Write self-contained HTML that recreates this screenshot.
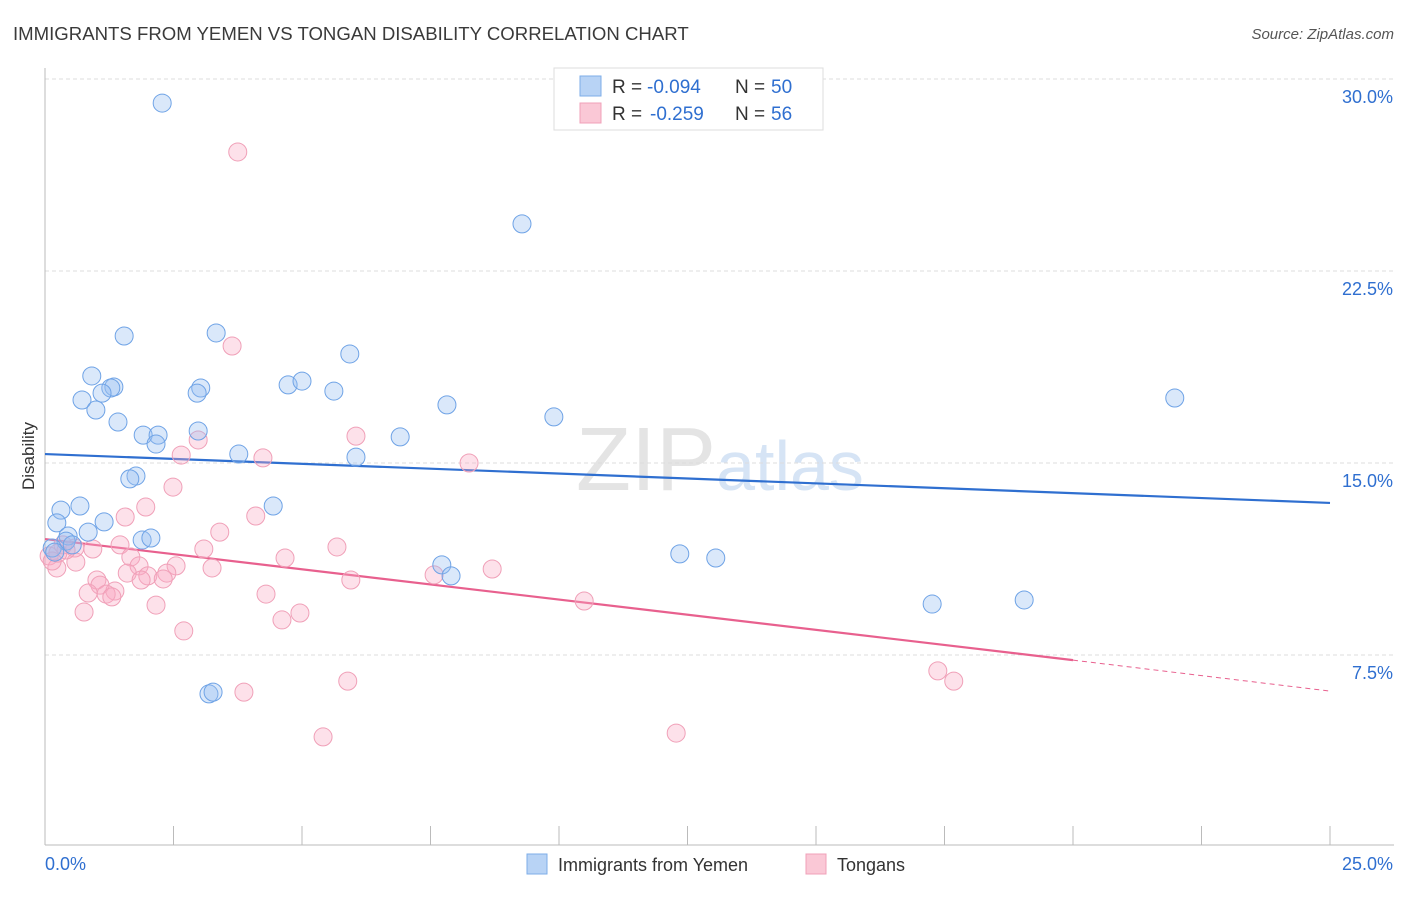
<!DOCTYPE html>
<html><head><meta charset="utf-8"><style>
body{margin:0;background:#fff;font-family:"Liberation Sans",sans-serif}
svg text{font-family:"Liberation Sans",sans-serif}
</style></head><body>
<svg id="chart" width="1406" height="892" xmlns="http://www.w3.org/2000/svg">
<text x="13" y="40" font-size="18.6" fill="#3a3a3a">IMMIGRANTS FROM YEMEN VS TONGAN DISABILITY CORRELATION CHART</text>
<text x="1394" y="39" font-size="15" fill="#555" text-anchor="end" font-style="italic">Source: ZipAtlas.com</text>
<text x="720" y="490" font-size="90" text-anchor="middle" fill="#e4e4e4" font-family="Liberation Serif">ZIP<tspan fill="#d6e4f5" font-family="Liberation Sans" font-size="70">atlas</tspan></text>
<g id="grid"></g><g id="axes"></g><g id="lines"></g><g id="pts"></g>
<text transform="translate(34,456) rotate(-90)" font-size="17" fill="#333" text-anchor="middle">Disability</text>
<g>
<rect x="554" y="68" width="269" height="62" fill="#fff" stroke="#ddd"/>
<rect x="580" y="76" width="21" height="20" fill="#b8d3f5" stroke="#7eaee8"/>
<rect x="580" y="103" width="21" height="20" fill="#fac8d6" stroke="#f0a0b8"/>
<text x="612" y="93" font-size="19" fill="#333">R =</text>
<text x="647" y="93" font-size="19" fill="#2f6fd0">-0.094</text>
<text x="735" y="93" font-size="19" fill="#333">N =</text>
<text x="771" y="93" font-size="19" fill="#2f6fd0">50</text>
<text x="612" y="120" font-size="19" fill="#333">R =</text>
<text x="650" y="120" font-size="19" fill="#2f6fd0">-0.259</text>
<text x="735" y="120" font-size="19" fill="#333">N =</text>
<text x="771" y="120" font-size="19" fill="#2f6fd0">56</text>
</g>
<g>
<rect x="527" y="854" width="20" height="20" fill="#b8d3f5" stroke="#7eaee8"/>
<text x="558" y="871" font-size="18" fill="#333">Immigrants from Yemen</text>
<rect x="806" y="854" width="20" height="20" fill="#fac8d6" stroke="#f0a0b8"/>
<text x="837" y="871" font-size="18" fill="#333">Tongans</text>
</g>
</svg>
<script>
const yTicks=[7.5,15,22.5,30];
const yTickLabels=["7.5%","15.0%","22.5%","30.0%"];
const xTickCount=10;
const xEndLabels=["0.0%","25.0%"];
const yemenX=[2.28,9.28,1.54,3.33,5.93,0.91,1.34,1.28,3.03,2.96,4.73,5.00,5.62,1.11,0.72,0.99,7.82,21.98,9.90,1.42,2.98,1.91,2.20,2.16,6.91,3.77,6.05,1.77,1.65,0.68,4.44,0.31,1.15,0.23,0.84,0.45,0.41,1.89,2.06,7.72,7.90,12.35,13.05,17.26,19.05,3.19,3.27,0.14,0.19,0.53];
const yemenY=[29.06,24.34,19.96,20.08,19.26,18.40,17.97,17.93,17.93,17.73,18.05,18.20,17.81,17.73,17.46,17.07,17.27,17.54,16.80,16.60,16.25,16.09,16.09,15.74,16.02,15.35,15.23,14.49,14.38,13.32,13.32,13.16,12.70,12.66,12.30,12.15,11.95,11.99,12.07,11.02,10.59,11.45,11.29,9.49,9.65,5.98,6.05,11.68,11.52,11.80];
const tonganX=[3.75,3.64,6.05,2.98,8.25,2.65,4.24,2.49,1.96,1.56,4.10,3.40,5.68,0.93,1.46,3.09,4.67,1.67,0.58,0.35,0.08,0.60,0.23,1.83,2.55,1.60,2.37,2.00,3.25,8.70,7.57,5.95,1.01,1.07,1.87,2.30,0.84,1.36,1.19,1.30,4.30,2.16,0.76,4.96,4.61,10.49,2.70,17.37,17.68,5.89,3.87,5.41,12.28,0.14,0.41,0.25];
const tonganY=[27.15,19.57,16.05,15.90,15.00,15.31,15.20,14.06,13.28,12.89,12.93,12.30,11.72,11.64,11.80,11.64,11.29,11.33,11.68,11.80,11.37,11.13,10.90,10.98,10.98,10.70,10.70,10.59,10.90,10.86,10.63,10.43,10.43,10.23,10.43,10.47,9.92,10.00,9.88,9.77,9.88,9.45,9.18,9.14,8.87,9.61,8.44,6.88,6.48,6.48,6.05,4.30,4.45,11.17,11.60,11.48];
const yemenTrend=[15.35,13.44];
const tonganTrend=[12.03,7.30,6.09];
const xs=v=>45+v/25*1285, ys=v=>847-v*25.6;
const NS="http://www.w3.org/2000/svg";
function mk(p,t,a){const e=document.createElementNS(NS,t);for(const k in a)e.setAttribute(k,a[k]);p.appendChild(e);return e;}
const G=document.getElementById('grid'),A=document.getElementById('axes'),L=document.getElementById('lines'),P=document.getElementById('pts');
yTicks.forEach((t,i)=>{
 const l=mk(G,'line',{x1:45,x2:1394,y1:ys(t),y2:ys(t),stroke:'#ddd','stroke-dasharray':'4,3'});
 
 
 const tx=mk(G,'text',{x:1393,y:ys(t)+24,'font-size':18,fill:'#2f6fd0','text-anchor':'end'});tx.textContent=yTickLabels[i];
 
 
});
const ax=mk(A,'line',{x1:45,x2:1394,y1:845,y2:845,stroke:'#bbb'});


const ay=mk(A,'line',{x1:45,x2:45,y1:68,y2:845,stroke:'#bbb'});


for(let i=0;i<=xTickCount;i++){const x=xs(i*25/xTickCount);const t=mk(A,'line',{x1:x,x2:x,y1:826,y2:845,stroke:'#bbb'});
 
 }
[[45,'start',0],[1393,'end',1]].forEach(([x,an,i])=>{const t=mk(A,'text',{x:x,y:870,'font-size':18,fill:'#2f6fd0','text-anchor':an});t.textContent=xEndLabels[i];
 
 });
const bl=mk(L,'line',{x1:xs(0),y1:ys(yemenTrend[0]),x2:xs(25),y2:ys(yemenTrend[1]),stroke:'#2f6fd0','stroke-width':2.2});


const pl=mk(L,'line',{x1:xs(0),y1:ys(tonganTrend[0]),x2:xs(20),y2:ys(tonganTrend[1]),stroke:'#e8608e','stroke-width':2.2});


const pd=mk(L,'line',{x1:xs(20),y1:ys(tonganTrend[1]),x2:xs(25),y2:ys(tonganTrend[2]),stroke:'#e8608e','stroke-width':1,'stroke-dasharray':'5,4'});


tonganX.forEach((v,i)=>{const c=mk(P,'circle',{cx:xs(v),cy:ys(tonganY[i]),r:9,fill:'rgba(248,170,195,0.35)',stroke:'#f0a0b8','stroke-width':1});
 
 });
yemenX.forEach((v,i)=>{const c=mk(P,'circle',{cx:xs(v),cy:ys(yemenY[i]),r:9,fill:'rgba(150,190,240,0.35)',stroke:'#6fa3e6','stroke-width':1});
 
 });
</script>
</body></html>
